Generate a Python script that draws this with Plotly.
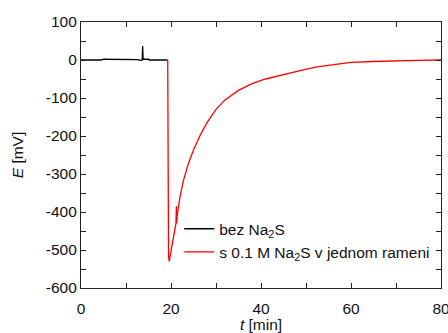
import plotly.graph_objects as go

# Black trace: without Na2S
t_black = [0, 2, 4.5, 5, 8, 11, 12.5, 13.2, 13.6, 13.7, 13.8, 14.2, 15, 15.2, 17, 19.27]
e_black = [0, 0, 0, 2, 2, 2, 1, -1, 0, 37, 2, 2, 2, 0, 0, 0]

# Red trace: with 0.1 M Na2S in one arm
t_red = [19.27, 19.3, 19.35, 19.45, 19.6, 19.9, 20.3, 20.8, 21.1, 21.2, 21.25, 21.35,
         22.0, 22.7, 23.8, 25.0, 26.4, 28.0, 30.0, 32.0, 35.0, 38.0, 41.0, 45.0,
         48.7, 52.4, 56.0, 60.0, 65.0, 70.0, 75.0, 80.0]
e_red = [0, -300, -480, -515, -530, -510, -480, -450, -430, -385, -430, -410,
         -360, -320, -275, -237, -200, -165, -130, -105, -80, -62, -50, -38,
         -28, -18, -13, -6, -4, -2, -1, 0]

x_tickvals = [0, 20, 40, 60, 80]
x_ticktext = ["0", "20", "40", "60", "80"]
y_tickvals = [100, 0, -100, -200, -300, -400, -500, -600]
y_ticktext = ["100", "0", "-100", "-200", "-300", "-400", "-500", "-600"]

FONT = "Arial, Liberation Sans, sans-serif"

fig = go.Figure()
fig.add_trace(go.Scatter(x=t_black, y=e_black, mode="lines",
                         line=dict(color="black", width=1.3),
                         name="bez Na<sub>2</sub>S"))
fig.add_trace(go.Scatter(x=t_red, y=e_red, mode="lines",
                         line=dict(color="#ff0000", width=1.3),
                         name="s 0.1 M Na<sub>2</sub>S v jednom rameni"))

axis_common = dict(showgrid=False, zeroline=False, showline=True, linecolor="#222",
                   linewidth=1.2, mirror="ticks", ticks="inside", ticklen=5,
                   tickcolor="#222", tickfont=dict(family=FONT, size=15.5, color="#111"),
                   ticklabeloverflow="allow")

fig.update_xaxes(range=[0, 80], tickvals=x_tickvals, ticktext=x_ticktext,
                 minor=dict(dtick=10, tick0=0, ticks="inside", ticklen=5, tickcolor="#222"),
                 ticklabelstandoff=6,
                 title=dict(text="<i>t</i> [min]", standoff=8,
                            font=dict(family=FONT, size=15.5, color="#111")),
                 **axis_common)
fig.update_yaxes(range=[-600, 100], tickvals=y_tickvals, ticktext=y_ticktext,
                 minor=dict(dtick=50, tick0=0, ticks="inside", ticklen=5, tickcolor="#222"),
                 title=dict(text="<i>E</i> [mV]", standoff=18,
                            font=dict(family=FONT, size=15.5, color="#111")),
                 **axis_common)

fig.update_layout(
    width=448, height=333,
    margin=dict(l=81, r=7, t=22, b=45, autoexpand=False),
    plot_bgcolor="white", paper_bgcolor="white",
    showlegend=True,
    legend=dict(x=0.984, y=0.285, xanchor="right", yanchor="top",
                bgcolor="rgba(0,0,0,0)", borderwidth=0, itemwidth=30,
                font=dict(family=FONT, size=15.5, color="#111")),
)

fig.write_html("out.html", config={"displayModeBar": False},
               post_script="document.body.style.margin='0';document.body.style.overflow='hidden';")
